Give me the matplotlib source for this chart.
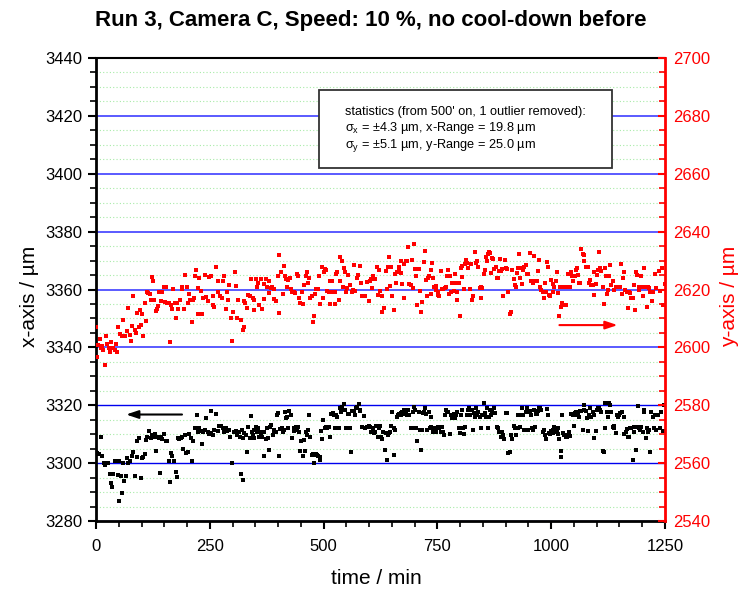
import matplotlib
matplotlib.use("Agg")
import matplotlib.pyplot as plt
from matplotlib.ticker import MultipleLocator
from matplotlib.patches import Rectangle

plt.rcParams['font.family'] = ['Liberation Sans', 'DejaVu Sans']
plt.rcParams['mathtext.fontset'] = 'custom'
plt.rcParams['mathtext.rm'] = 'Liberation Sans'

# black points: (time / min, x-axis / um)
x_points = [
    (0, 3304.0), (3, 3303.6), (7, 3303.2), (10, 3308.9), (14, 3302.6), (18, 3300.2), (20, 3299.4),
    (23, 3300.0), (27, 3300.0), (31, 3296.2), (34, 3293.0), (35, 3291.8), (37, 3296.2), (41, 3300.6),
    (44, 3300.6), (48, 3296.0), (50, 3300.9), (51, 3287.0), (54, 3295.6), (56, 3289.7), (59, 3300.0),
    (61, 3293.7), (65, 3295.4), (69, 3301.7), (71, 3299.9), (75, 3300.6), (78, 3302.3), (82, 3304.0),
    (85, 3295.5), (89, 3302.0), (91, 3307.5), (95, 3308.6), (98, 3294.8), (100, 3301.7), (103, 3302.0),
    (107, 3303.1), (109, 3308.0), (113, 3309.2), (116, 3311.1), (120, 3308.6), (122, 3309.8), (126, 3308.9),
    (129, 3310.0), (132, 3304.3), (135, 3308.9), (139, 3308.6), (141, 3296.6), (142, 3308.9), (146, 3308.4),
    (150, 3310.0), (153, 3307.7), (157, 3307.5), (160, 3300.8), (162, 3293.4), (165, 3303.4), (168, 3302.3),
    (171, 3300.6), (175, 3296.9), (179, 3295.1), (180, 3308.6), (182, 3308.4), (186, 3308.6), (190, 3309.2),
    (192, 3304.8), (195, 3309.8), (197, 3303.4), (201, 3304.0), (205, 3310.0), (208, 3308.6), (210, 3300.6),
    (212, 3307.7), (217, 3312.1), (222, 3316.7), (225, 3310.7), (227, 3312.3), (230, 3311.1), (233, 3306.6),
    (236, 3310.9), (239, 3311.5), (242, 3315.7), (245, 3310.9), (248, 3310.0), (252, 3318.0), (253, 3310.3),
    (256, 3309.8), (259, 3311.5), (263, 3316.9), (267, 3311.1), (270, 3313.0), (274, 3313.0), (278, 3312.1),
    (281, 3310.9), (285, 3312.1), (288, 3311.1), (292, 3311.5), (295, 3308.9), (299, 3300.0), (303, 3310.9),
    (307, 3311.1), (310, 3309.8), (314, 3310.9), (316, 3309.2), (319, 3296.2), (320, 3311.5), (322, 3294.3),
    (324, 3308.6), (326, 3310.3), (329, 3309.8), (332, 3303.8), (335, 3312.4), (338, 3308.6), (340, 3316.4),
    (343, 3310.9), (345, 3309.8), (346, 3311.5), (348, 3308.6), (351, 3312.6), (353, 3310.9), (355, 3312.1),
    (358, 3308.9), (360, 3310.9), (362, 3310.3), (365, 3309.2), (368, 3310.9), (370, 3302.3), (373, 3308.4),
    (375, 3312.1), (377, 3308.6), (379, 3304.6), (382, 3312.6), (385, 3313.2), (388, 3309.8), (390, 3310.9),
    (392, 3311.5), (395, 3310.9), (398, 3316.7), (400, 3317.2), (403, 3302.3), (405, 3311.8), (408, 3312.1),
    (411, 3310.9), (414, 3311.5), (416, 3317.8), (417, 3315.5), (419, 3316.1), (422, 3312.1), (425, 3318.0),
    (428, 3316.7), (430, 3308.6), (434, 3311.1), (436, 3312.1), (439, 3312.6), (441, 3311.5), (443, 3312.4),
    (446, 3310.9), (449, 3304.3), (451, 3307.5), (454, 3302.3), (456, 3308.0), (460, 3304.3), (462, 3310.9),
    (464, 3309.8), (466, 3311.5), (468, 3316.7), (471, 3309.2), (474, 3302.9), (477, 3303.1), (480, 3300.0),
    (481, 3302.9), (483, 3303.1), (485, 3302.9), (488, 3302.3), (491, 3301.1), (493, 3302.0), (494, 3311.1),
    (497, 3308.4), (499, 3314.9), (502, 3312.1), (505, 3312.6), (508, 3312.3), (511, 3312.6), (514, 3308.9),
    (517, 3316.9), (520, 3317.2), (523, 3316.7), (526, 3312.3), (528, 3316.7), (530, 3316.1), (533, 3312.1),
    (536, 3319.0), (539, 3317.8), (541, 3319.5), (543, 3318.4), (545, 3320.5), (548, 3318.4), (550, 3312.1),
    (553, 3316.9), (556, 3316.9), (559, 3312.1), (561, 3304.0), (563, 3318.0), (566, 3318.0), (568, 3316.7),
    (571, 3319.0), (574, 3319.5), (577, 3320.3), (579, 3318.4), (581, 3318.0), (584, 3312.6), (588, 3316.3),
    (591, 3312.1), (595, 3312.6), (599, 3313.0), (603, 3312.6), (605, 3310.9), (608, 3312.1), (610, 3310.3),
    (613, 3310.9), (616, 3313.0), (619, 3309.2), (621, 3312.1), (624, 3312.9), (626, 3309.2), (628, 3308.3),
    (631, 3310.9), (634, 3304.6), (637, 3310.3), (639, 3301.1), (641, 3309.8), (644, 3310.3), (646, 3310.9),
    (649, 3312.9), (651, 3317.8), (654, 3302.9), (655, 3312.1), (657, 3311.5), (661, 3316.1), (663, 3316.7),
    (666, 3316.9), (669, 3317.2), (671, 3316.7), (673, 3317.8), (675, 3316.9), (677, 3318.4), (680, 3318.0),
    (683, 3316.7), (686, 3318.4), (688, 3316.7), (691, 3312.3), (694, 3312.1), (696, 3317.8), (699, 3319.5),
    (701, 3318.4), (704, 3312.1), (706, 3307.5), (709, 3317.8), (712, 3311.5), (714, 3304.6), (716, 3311.5),
    (719, 3317.2), (721, 3317.5), (723, 3319.2), (726, 3316.9), (728, 3311.5), (731, 3317.8), (733, 3312.1),
    (735, 3316.1), (737, 3312.6), (740, 3310.9), (742, 3312.3), (745, 3311.5), (747, 3310.9), (749, 3312.1),
    (751, 3312.6), (754, 3312.1), (757, 3310.9), (760, 3312.6), (762, 3310.9), (764, 3309.8), (767, 3316.7),
    (769, 3318.4), (772, 3317.5), (774, 3317.8), (777, 3310.0), (780, 3316.7), (783, 3315.7), (786, 3316.9),
    (788, 3315.5), (791, 3316.7), (794, 3317.8), (797, 3312.1), (800, 3310.3), (801, 3316.7), (803, 3318.4),
    (806, 3312.3), (808, 3310.0), (811, 3312.6), (814, 3316.7), (817, 3318.4), (820, 3319.0), (822, 3316.7),
    (826, 3318.4), (828, 3311.5), (830, 3317.2), (833, 3316.1), (835, 3319.0), (837, 3316.7), (840, 3317.8),
    (844, 3316.1), (846, 3312.3), (849, 3316.7), (852, 3320.7), (854, 3317.2), (856, 3316.1), (858, 3319.0),
    (861, 3312.3), (864, 3316.1), (866, 3318.4), (868, 3316.7), (871, 3317.8), (874, 3319.2), (877, 3317.2),
    (880, 3312.6), (883, 3312.1), (886, 3310.7), (889, 3309.2), (892, 3310.9), (895, 3309.8), (897, 3308.4),
    (900, 3317.2), (903, 3317.2), (906, 3303.4), (910, 3304.0), (912, 3309.8), (915, 3308.4), (918, 3312.9),
    (920, 3312.1), (923, 3309.8), (926, 3316.7), (928, 3312.3), (931, 3312.6), (934, 3316.7), (935, 3319.0),
    (939, 3316.7), (941, 3311.5), (944, 3317.8), (946, 3319.0), (949, 3311.5), (952, 3317.8), (954, 3318.0),
    (956, 3316.7), (958, 3312.3), (960, 3311.5), (963, 3318.4), (965, 3312.6), (966, 3316.9), (969, 3316.9),
    (971, 3318.0), (974, 3319.2), (976, 3319.0), (978, 3318.4), (981, 3310.9), (984, 3311.5), (986, 3309.8),
    (989, 3308.4), (991, 3318.7), (992, 3316.7), (995, 3310.3), (997, 3310.0), (1000, 3311.1), (1003, 3310.3),
    (1005, 3311.5), (1007, 3312.6), (1009, 3312.1), (1012, 3310.9), (1014, 3312.1), (1016, 3310.0), (1018, 3308.4),
    (1021, 3304.3), (1022, 3302.0), (1023, 3316.7), (1027, 3310.3), (1029, 3309.8), (1032, 3308.9), (1035, 3309.2),
    (1037, 3309.8), (1040, 3310.9), (1042, 3309.5), (1044, 3316.9), (1047, 3316.7), (1050, 3313.0), (1052, 3317.2),
    (1055, 3317.6), (1056, 3316.7), (1058, 3316.9), (1061, 3316.1), (1063, 3318.0), (1066, 3318.0), (1069, 3311.5),
    (1071, 3318.4), (1073, 3320.1), (1076, 3318.0), (1078, 3315.5), (1080, 3311.1), (1082, 3316.7), (1086, 3319.2),
    (1088, 3316.1), (1091, 3317.8), (1093, 3316.7), (1095, 3308.6), (1098, 3311.1), (1101, 3318.4), (1103, 3319.0),
    (1106, 3319.2), (1108, 3318.4), (1110, 3317.6), (1113, 3304.3), (1115, 3304.0), (1118, 3320.7), (1119, 3312.3),
    (1122, 3317.8), (1124, 3316.1), (1127, 3320.7), (1129, 3320.1), (1132, 3317.8), (1135, 3312.6), (1137, 3312.9),
    (1139, 3312.3), (1142, 3310.3), (1144, 3316.7), (1146, 3316.1), (1149, 3316.7), (1152, 3317.2), (1155, 3317.6),
    (1159, 3316.1), (1161, 3310.0), (1164, 3310.9), (1167, 3311.7), (1169, 3309.2), (1172, 3309.2), (1174, 3312.3),
    (1176, 3312.1), (1179, 3301.1), (1181, 3310.9), (1183, 3312.6), (1186, 3304.6), (1188, 3312.6), (1190, 3319.9),
    (1193, 3312.3), (1195, 3311.5), (1198, 3312.6), (1201, 3310.9), (1203, 3318.4), (1205, 3317.8), (1208, 3308.6),
    (1210, 3312.1), (1212, 3310.9), (1215, 3311.5), (1218, 3304.0), (1220, 3317.8), (1223, 3316.1), (1225, 3312.3),
    (1227, 3316.7), (1230, 3311.5), (1234, 3316.5), (1238, 3312.0), (1241, 3317.5), (1245, 3311.0), (1248, 3320.0),
]

# red points: (time / min, y-axis / um)
y_points = [
    (0, 2606.9), (3, 2596.7), (4, 2600.9), (8, 2602.9), (10, 2599.8), (14, 2600.6), (16, 2599.2), (20, 2594.0),
    (23, 2603.9), (25, 2601.3), (29, 2599.8), (31, 2598.4), (33, 2601.8), (37, 2599.8), (41, 2599.0), (44, 2601.1),
    (47, 2598.4), (49, 2607.2), (52, 2604.5), (56, 2604.1), (60, 2609.3), (61, 2604.1), (64, 2604.1), (67, 2605.5),
    (69, 2605.6), (71, 2613.6), (74, 2604.4), (76, 2602.2), (80, 2607.5), (82, 2617.8), (85, 2606.1), (88, 2605.1),
    (91, 2611.8), (94, 2606.9), (96, 2612.9), (98, 2607.7), (101, 2611.7), (104, 2604.1), (107, 2615.5), (110, 2609.0),
    (111, 2619.1), (115, 2618.7), (118, 2618.4), (120, 2616.3), (123, 2624.3), (125, 2622.8), (127, 2616.3), (131, 2612.6),
    (133, 2613.3), (136, 2614.4), (139, 2619.0), (142, 2615.9), (146, 2619.1), (150, 2620.8), (151, 2615.6), (154, 2620.8),
    (156, 2615.4), (160, 2615.3), (162, 2602.0), (164, 2614.7), (168, 2613.3), (170, 2620.2), (173, 2615.4), (176, 2610.1),
    (179, 2615.2), (181, 2613.3), (185, 2616.3), (188, 2620.1), (190, 2620.8), (193, 2613.3), (195, 2625.1), (199, 2620.8),
    (201, 2615.3), (205, 2618.4), (207, 2616.3), (210, 2608.6), (213, 2616.3), (216, 2617.0), (217, 2624.7), (220, 2626.8),
    (223, 2620.5), (225, 2611.5), (227, 2623.9), (230, 2619.5), (233, 2611.6), (236, 2617.0), (239, 2625.1), (241, 2617.4),
    (245, 2615.9), (248, 2624.4), (252, 2624.5), (256, 2617.6), (257, 2614.7), (259, 2613.9), (264, 2627.7), (267, 2623.0),
    (269, 2619.3), (273, 2617.8), (277, 2617.2), (280, 2622.9), (282, 2624.7), (286, 2613.2), (288, 2619.1), (290, 2616.2),
    (293, 2621.4), (296, 2610.1), (299, 2602.3), (301, 2612.2), (305, 2626.2), (307, 2621.1), (310, 2610.3), (312, 2616.4),
    (319, 2609.5), (322, 2606.1), (325, 2607.0), (326, 2616.1), (328, 2615.3), (331, 2613.6), (335, 2618.2), (339, 2617.6),
    (341, 2623.6), (344, 2617.2), (346, 2613.0), (348, 2616.4), (351, 2623.6), (353, 2620.7), (355, 2622.4), (359, 2614.7),
    (362, 2623.6), (364, 2613.3), (368, 2621.8), (370, 2616.8), (373, 2623.6), (376, 2621.0), (379, 2618.7), (381, 2622.8),
    (384, 2620.5), (386, 2621.0), (390, 2616.7), (392, 2620.2), (395, 2616.1), (399, 2624.5), (401, 2632.0), (403, 2611.8),
    (406, 2626.2), (410, 2618.5), (414, 2628.2), (416, 2624.8), (417, 2623.6), (420, 2620.8), (422, 2623.3), (426, 2623.9),
    (428, 2620.1), (431, 2619.0), (434, 2619.3), (437, 2618.7), (441, 2625.4), (443, 2624.5), (447, 2617.2), (449, 2615.3),
    (452, 2619.0), (454, 2615.1), (458, 2621.6), (461, 2624.5), (463, 2625.9), (466, 2622.2), (469, 2623.9), (471, 2617.2),
    (474, 2617.6), (476, 2608.7), (479, 2610.7), (481, 2618.4), (484, 2620.1), (487, 2620.2), (490, 2624.7), (493, 2615.1),
    (496, 2627.7), (498, 2617.0), (500, 2626.2), (503, 2627.0), (506, 2626.8), (508, 2619.5), (511, 2619.3), (513, 2623.0),
    (514, 2614.9), (518, 2623.1), (520, 2619.0), (522, 2619.1), (524, 2619.1), (526, 2615.1), (528, 2625.4), (530, 2625.9),
    (533, 2616.4), (535, 2622.8), (537, 2631.1), (540, 2629.7), (542, 2621.0), (544, 2627.4), (547, 2626.2), (549, 2619.3),
    (551, 2620.5), (554, 2625.1), (558, 2621.6), (562, 2619.1), (564, 2619.9), (567, 2628.5), (570, 2619.5), (573, 2623.9),
    (575, 2625.1), (579, 2628.2), (583, 2622.4), (584, 2617.9), (587, 2617.6), (592, 2617.6), (595, 2622.5), (599, 2615.9),
    (601, 2623.0), (605, 2623.7), (606, 2620.5), (609, 2624.5), (613, 2623.6), (617, 2627.9), (619, 2618.2), (621, 2626.8),
    (624, 2619.5), (628, 2612.2), (629, 2617.6), (633, 2613.6), (637, 2626.4), (639, 2620.2), (641, 2627.9), (643, 2631.4),
    (646, 2621.3), (649, 2627.9), (650, 2617.6), (654, 2613.0), (656, 2625.3), (659, 2622.4), (661, 2626.0), (665, 2626.8),
    (666, 2627.7), (669, 2625.6), (671, 2630.0), (673, 2621.8), (676, 2617.0), (677, 2628.7), (680, 2629.7), (683, 2629.7),
    (686, 2634.8), (688, 2621.8), (691, 2621.4), (694, 2630.2), (696, 2620.5), (699, 2635.6), (701, 2627.0), (703, 2624.5),
    (706, 2614.7), (709, 2627.0), (711, 2619.5), (714, 2612.2), (717, 2615.6), (720, 2629.4), (722, 2633.3), (725, 2623.3),
    (727, 2617.8), (729, 2624.1), (732, 2624.5), (735, 2626.8), (736, 2618.4), (739, 2629.1), (741, 2624.1), (743, 2620.7),
    (746, 2621.3), (748, 2619.9), (751, 2619.0), (752, 2618.2), (754, 2617.9), (758, 2626.4), (760, 2620.2), (763, 2620.2),
    (766, 2620.5), (769, 2620.7), (771, 2624.5), (773, 2626.7), (776, 2618.4), (778, 2624.5), (780, 2619.3), (783, 2622.2),
    (786, 2619.5), (788, 2625.3), (789, 2622.2), (792, 2619.3), (794, 2616.4), (797, 2622.2), (799, 2610.7), (802, 2627.4),
    (803, 2628.2), (805, 2624.3), (808, 2620.1), (811, 2628.7), (813, 2630.2), (814, 2629.1), (818, 2627.6), (821, 2620.2),
    (823, 2628.7), (827, 2616.4), (829, 2617.6), (832, 2632.9), (834, 2629.1), (837, 2629.7), (840, 2627.9), (843, 2620.5),
    (845, 2620.7), (846, 2617.0), (848, 2620.5), (852, 2625.3), (854, 2626.8), (857, 2631.1), (859, 2629.7), (861, 2632.3),
    (864, 2633.1), (866, 2632.5), (868, 2625.6), (871, 2630.8), (873, 2630.6), (875, 2627.1), (878, 2627.9), (880, 2624.1),
    (884, 2623.9), (886, 2626.4), (888, 2630.5), (890, 2626.4), (893, 2627.1), (895, 2617.8), (899, 2630.2), (901, 2627.4),
    (904, 2627.0), (906, 2619.1), (909, 2611.5), (912, 2612.2), (915, 2626.8), (918, 2623.7), (920, 2621.6), (923, 2620.7),
    (925, 2625.6), (928, 2627.4), (929, 2632.2), (931, 2624.1), (934, 2627.4), (935, 2621.8), (939, 2626.8), (941, 2627.9),
    (944, 2628.5), (946, 2625.3), (950, 2625.3), (954, 2632.5), (956, 2622.8), (959, 2622.2), (961, 2622.8), (963, 2631.7),
    (966, 2623.0), (969, 2622.8), (971, 2626.4), (974, 2630.2), (976, 2620.7), (978, 2619.9), (981, 2619.3), (984, 2617.0),
    (986, 2622.2), (989, 2619.3), (991, 2629.4), (992, 2627.9), (995, 2618.2), (997, 2617.6), (1000, 2623.3), (1003, 2619.3),
    (1005, 2621.8), (1007, 2621.0), (1010, 2622.8), (1012, 2626.2), (1015, 2618.7), (1018, 2610.7), (1020, 2620.7), (1022, 2613.8),
    (1023, 2615.3), (1027, 2620.7), (1029, 2614.7), (1032, 2614.5), (1035, 2620.7), (1037, 2620.7), (1038, 2625.3), (1041, 2620.7),
    (1044, 2626.2), (1046, 2624.8), (1048, 2622.8), (1052, 2624.8), (1055, 2626.8), (1056, 2627.6), (1058, 2625.1), (1061, 2622.2),
    (1063, 2622.2), (1066, 2634.0), (1069, 2632.2), (1071, 2632.0), (1073, 2629.9), (1076, 2627.9), (1078, 2627.9), (1080, 2627.9),
    (1083, 2622.2), (1086, 2623.3), (1088, 2621.6), (1091, 2621.4), (1093, 2618.2), (1095, 2626.2), (1098, 2621.8), (1101, 2625.1),
    (1103, 2626.8), (1106, 2633.1), (1108, 2627.4), (1110, 2626.4), (1113, 2621.0), (1115, 2614.9), (1118, 2627.4), (1120, 2624.7),
    (1122, 2618.4), (1124, 2619.9), (1127, 2624.5), (1129, 2628.5), (1132, 2621.6), (1135, 2622.8), (1137, 2619.9), (1139, 2619.9),
    (1142, 2621.0), (1144, 2621.0), (1148, 2620.7), (1151, 2621.0), (1153, 2628.7), (1155, 2618.4), (1158, 2623.9), (1160, 2626.2),
    (1163, 2619.9), (1166, 2619.3), (1169, 2613.6), (1170, 2619.1), (1174, 2618.7), (1176, 2617.0), (1179, 2617.0), (1182, 2621.6),
    (1184, 2613.0), (1186, 2626.2), (1188, 2625.1), (1192, 2619.9), (1194, 2621.0), (1198, 2624.8), (1199, 2620.7), (1201, 2617.6),
    (1204, 2627.6), (1206, 2620.7), (1210, 2613.8), (1212, 2620.7), (1215, 2620.5), (1218, 2619.3), (1221, 2615.9), (1224, 2619.1),
    (1227, 2625.3), (1230, 2620.5), (1236, 2626.5), (1240, 2619.5), (1243, 2627.5), (1246, 2614.5), (1249, 2622.0),
]

t_x, x_um = zip(*x_points)
t_y, y_um = zip(*y_points)

title = "Run 3, Camera C, Speed: 10 %, no cool-down before"
stats_lines = [
    "statistics (from 500' on, 1 outlier removed):",
    r"σ$_\mathregular{x}$ = ±4.3 µm, x-Range = 19.8 µm",
    r"σ$_\mathregular{y}$ = ±5.1 µm, y-Range = 25.0 µm",
]

fig = plt.figure(figsize=(7.42, 5.93), dpi=100)
ax = fig.add_axes([0.1294, 0.1214, 0.7668, 0.7808])
ax.set_xlim(0, 1250)
ax.set_ylim(3280, 3440)
ax.xaxis.set_major_locator(MultipleLocator(250))
ax.xaxis.set_minor_locator(MultipleLocator(50))
ax.yaxis.set_major_locator(MultipleLocator(20))
ax.yaxis.set_minor_locator(MultipleLocator(5))

# grid: blue major lines, dotted green minor lines
ax.set_axisbelow(True)
ax.grid(True, which='major', axis='y', color='#5a5aff', lw=1.4)
ax.grid(True, which='minor', axis='y', color='#a8eaa8', lw=0.8, ls=(0, (1, 2)))
for val, gl in zip(ax.get_yticks(), ax.yaxis.get_gridlines()):
    if val < 3330:
        gl.set_color('#0000ee')
        gl.set_linewidth(1.0)

ax.tick_params(axis='both', which='major', direction='out', length=6, width=1.5,
               labelsize=12, pad=4)
ax.tick_params(axis='x', which='major', pad=7)
ax.tick_params(axis='both', which='minor', direction='out', length=4, width=1.2)
ax.tick_params(axis='x', top=False, which='both')
for side in ['left', 'bottom']:
    ax.spines[side].set_linewidth(2)
ax.spines['top'].set_linewidth(1.5)
ax.spines['right'].set_visible(False)

ax.plot(t_x, x_um, ls='none', marker='s', ms=2.9, mew=0, color='black')

ax2 = ax.twinx()
ax2.set_ylim(2540, 2700)
ax2.yaxis.set_major_locator(MultipleLocator(20))
ax2.yaxis.set_minor_locator(MultipleLocator(5))
ax2.tick_params(axis='y', which='major', direction='in', length=5, width=1.5,
                colors='red', labelcolor='red', labelsize=12, pad=6)
ax2.tick_params(axis='y', which='minor', direction='in', length=4, width=1.2, colors='red')
ax2.spines['right'].set_color('red')
ax2.spines['right'].set_linewidth(2)
for side in ['left', 'bottom', 'top']:
    ax2.spines[side].set_visible(False)

ax2.plot(t_y, y_um, ls='none', marker='s', ms=2.9, mew=0, color='red')

# arrows showing which axis each series belongs to
ax.annotate('', xy=(60, 3316.8), xytext=(195, 3316.8),
            arrowprops=dict(arrowstyle='-|>,head_length=0.6,head_width=0.2',
                            color='black', lw=1.5, mutation_scale=12))
ax2.annotate('', xy=(1152, 2607.7), xytext=(1012, 2607.7),
             arrowprops=dict(arrowstyle='-|>,head_length=0.6,head_width=0.2',
                             color='red', lw=1.5, mutation_scale=12))

# statistics box
ax2.add_patch(Rectangle((0.392, 0.762), 0.515, 0.169, transform=ax2.transAxes,
                        facecolor='white', edgecolor='#333333', lw=1.3, zorder=5))
for yy, line in zip([0.884, 0.848, 0.810], stats_lines):
    ax2.text(0.4376, yy, line, transform=ax2.transAxes, fontsize=9.2,
             va='center', ha='left', zorder=6)

fig.text(0.5, 0.966, title, ha='center', va='center', fontsize=16, fontweight='bold')
fig.text(0.507, 0.025, 'time / min', ha='center', va='center', fontsize=15)
fig.text(0.04, 0.5, 'x-axis / µm', ha='center', va='center', rotation=90, fontsize=15)
fig.text(0.983, 0.5, 'y-axis / µm', ha='center', va='center', rotation=90, fontsize=15,
         color='red')

fig.savefig('out.png', dpi=100)
